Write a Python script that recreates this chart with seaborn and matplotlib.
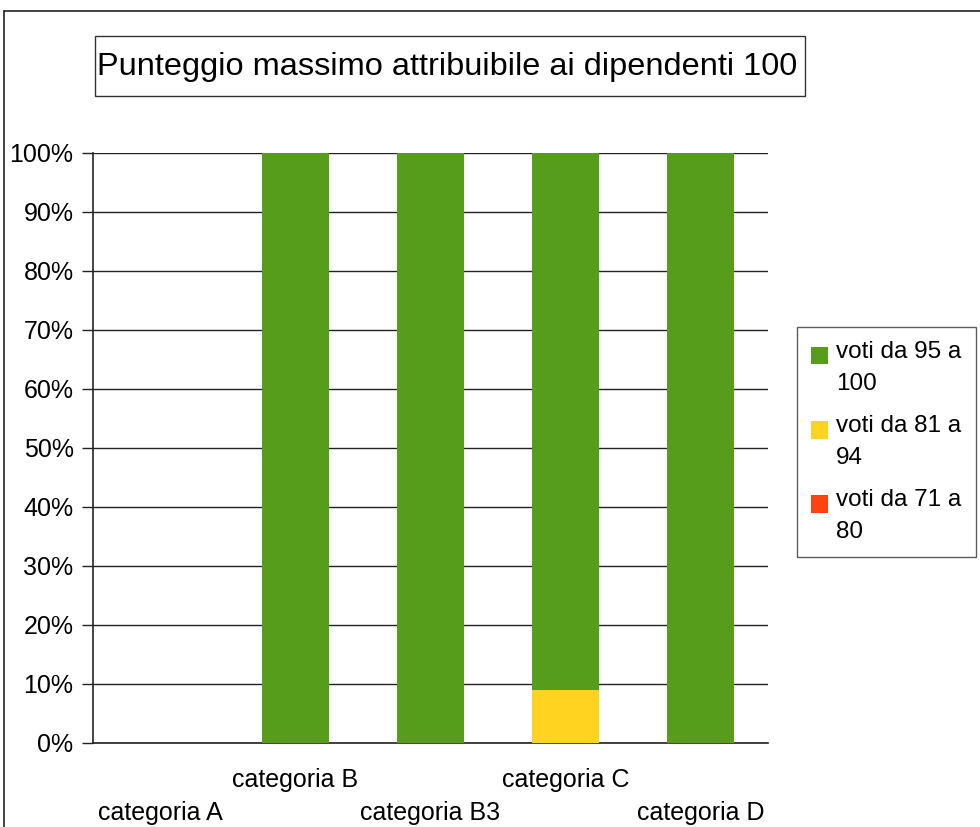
import seaborn as sns
import matplotlib.pyplot as plt
import pandas as pd
import numpy as np
from matplotlib.patches import Patch, Rectangle
from matplotlib.lines import Line2D
from matplotlib.legend_handler import HandlerPatch

categories = ['categoria A', 'categoria B', 'categoria B3', 'categoria C', 'categoria D']
voti_95_100 = [0, 100, 100, 91, 100]
voti_81_94 = [0, 0, 0, 9, 0]
voti_71_80 = [0, 0, 0, 0, 0]
series_names = ['voti da 95 a\n100', 'voti da 81 a\n94', 'voti da 71 a\n80']
colors = ['#579D1C', '#FFD320', '#FF420E']
yticks = list(range(0, 101, 10))

sns.set_style('white')
plt.rcParams['font.family'] = ['Liberation Sans', 'DejaVu Sans']
plt.rcParams['text.color'] = 'black'
plt.rcParams['xtick.color'] = 'black'
plt.rcParams['ytick.color'] = 'black'

# stacked: red at bottom, yellow, green on top -> draw cumulative totals
df = pd.DataFrame({'cat': categories, 'g': voti_95_100, 'y': voti_81_94, 'r': voti_71_80})
df['tot'] = df['r'] + df['y'] + df['g']
df['ry'] = df['r'] + df['y']

fig = plt.figure(figsize=(9.8, 8.27), dpi=100)
ax = fig.add_axes([0.0949, 0.1016, 0.6888, 0.7134])

for col, c in [('tot', colors[0]), ('ry', colors[1]), ('r', colors[2])]:
    sns.barplot(data=df, x='cat', y=col, color=c, width=0.5, ax=ax,
                saturation=1, linewidth=0, zorder=3)

ax.set_xlim(-0.5, 4.5)
ax.set_ylim(0, 100)
ax.set_xlabel('')
ax.set_ylabel('')
ax.set_yticks(yticks)
ax.set_yticklabels([f'{v}%' for v in yticks], fontsize=18)
ax.yaxis.grid(True, color='#222222', linewidth=1, zorder=0)
ax.set_axisbelow(True)

labels = [lab if i % 2 == 1 else '\n' + lab for i, lab in enumerate(categories)]
ax.set_xticks(range(len(categories)))
ax.set_xticklabels(labels, fontsize=18, linespacing=1.45)
ax.set_xticks(np.arange(-0.5, len(categories), 1), minor=True)
ax.tick_params(axis='x', which='major', length=0, pad=18)
ax.tick_params(axis='x', which='minor', length=12, width=1, color='#222222', direction='out')
ax.tick_params(axis='y', length=8, width=1, color='#222222', direction='out', pad=6, left=True)

for s in ['top', 'right']:
    ax.spines[s].set_visible(False)
for s in ['left', 'bottom']:
    ax.spines[s].set_color('#222222')
    ax.spines[s].set_linewidth(1.2)

# title with its own frame
fig.add_artist(Rectangle((95 / 980, 1 - 96 / 827), 710 / 980, 60 / 827, transform=fig.transFigure,
                         facecolor='white', edgecolor='#333333', linewidth=1))
fig.text(0.456, 0.919, 'Punteggio massimo attribuibile ai dipendenti 100',
         ha='center', va='center', fontsize=23.4)


# square marker aligned with the first line of a two-line label
def top_square(legend, orig_handle, xdescent, ydescent, width, height, fontsize):
    s = width
    return Rectangle((-xdescent, -ydescent + height - s), s, s)


handles = [Patch(facecolor=c, edgecolor='none') for c in colors]
leg = fig.legend(handles, series_names, loc='center left', bbox_to_anchor=(0.813, 0.4655),
                 fontsize=17.5, frameon=True, fancybox=False, edgecolor='#333333',
                 handlelength=0.7, handleheight=2.35, handletextpad=0.35,
                 labelspacing=0.85, borderpad=0.58, borderaxespad=0,
                 handler_map={Patch: HandlerPatch(patch_func=top_square)})
for t in leg.get_texts():
    t.set_linespacing(1.55)

# outer chart border (left and top visible)
fig.add_artist(Line2D([3.5 / 980, 3.5 / 980], [0, 1 - 11 / 827], color='#222222', lw=1.2))
fig.add_artist(Line2D([3.5 / 980, 1], [1 - 11 / 827, 1 - 11 / 827], color='#222222', lw=1.2))

fig.savefig('out.png', dpi=100)
